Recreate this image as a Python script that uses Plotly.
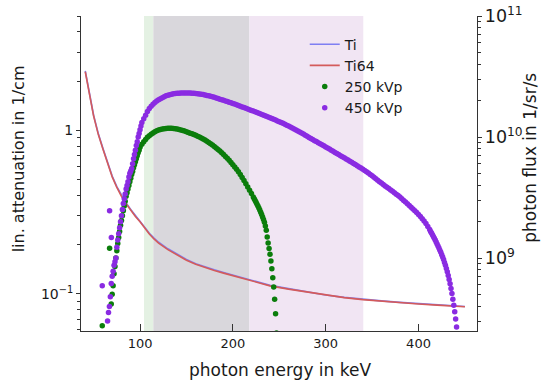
import plotly.graph_objects as go

# ---------------- data ----------------
# linear attenuation (log10 of 1/cm)
atten_energy = [41, 42, 44, 46, 48, 50, 52, 55, 60, 65, 70, 75, 80, 85, 90, 95, 100, 105, 110,
                115, 120, 130, 140, 150, 160, 170, 180, 190, 200, 220, 240, 260, 280, 300,
                320, 340, 360, 380, 400, 420, 440, 450]
ti64_log_mu = [0.358, 0.325, 0.26, 0.197, 0.138, 0.087, 0.042, -0.025, -0.115, -0.205, -0.285,
               -0.35, -0.405, -0.45, -0.49, -0.527, -0.56, -0.60, -0.635, -0.665, -0.69, -0.73,
               -0.765, -0.795, -0.82, -0.84, -0.858, -0.874, -0.89, -0.922, -0.952, -0.972,
               -0.99, -1.01, -1.024, -1.036, -1.046, -1.055, -1.063, -1.07, -1.077, -1.08]
ti_log_mu = [0.363, 0.33, 0.265, 0.202, 0.143, 0.092, 0.047, -0.02, -0.11, -0.2, -0.28,
             -0.345, -0.4, -0.445, -0.485, -0.522, -0.555, -0.595, -0.63, -0.66, -0.685,
             -0.725, -0.76, -0.79, -0.816, -0.836, -0.854, -0.87, -0.886, -0.918, -0.949,
             -0.969, -0.988, -1.008, -1.022, -1.034, -1.044, -1.053, -1.061, -1.068, -1.075, -1.078]

# photon flux spectra (log10 of 1/sr/s)
e_250 = [59.3, 67.2, 69, 70, 71, 72, 73, 74, 75, 76, 77, 78, 79, 80, 81, 82, 83, 84, 85, 86, 87,
         88, 89, 90, 91, 92, 93, 94, 95, 96, 97, 98, 99, 100,
         102, 104, 106, 108, 110, 112, 114, 116, 118, 120, 122, 124, 126, 128, 130, 132, 134,
         136, 138, 140, 142, 144, 146, 148, 150, 152, 154, 156, 158, 160, 162, 164, 166, 168,
         170, 172, 174, 176, 178, 180, 182, 184, 186, 188, 190, 192, 194, 196, 198, 200, 202,
         204, 206, 208, 210, 212, 214, 216, 218, 220, 222,
         223, 224, 225, 226, 227, 228, 229, 230, 231, 232, 233, 234, 235, 236, 237, 238, 239,
         240, 241, 242, 243, 244, 245, 246, 247]
logf_250 = [8.44, 9.08, 8.62, 8.70, 8.77, 8.87, 8.93, 9.00, 9.06, 9.12, 9.17, 9.22, 9.27, 9.31,
            9.35, 9.39, 9.43, 9.47, 9.51, 9.54, 9.57, 9.60, 9.63, 9.66, 9.69, 9.715, 9.745, 9.77,
            9.795, 9.82, 9.845, 9.87, 9.89, 9.915,
            9.94, 9.96, 9.98, 9.998, 10.01, 10.023, 10.034, 10.043, 10.051, 10.057, 10.062,
            10.066, 10.069, 10.071, 10.072, 10.073, 10.072, 10.071, 10.069, 10.066, 10.062,
            10.058, 10.054, 10.049, 10.044, 10.038, 10.032, 10.026, 10.02, 10.014, 10.007, 10.0,
            9.992, 9.984, 9.975, 9.965, 9.955, 9.944, 9.933, 9.922, 9.91, 9.897, 9.884, 9.87,
            9.856, 9.84, 9.824, 9.807, 9.79, 9.771, 9.752, 9.733, 9.713, 9.69, 9.666, 9.641,
            9.614, 9.587, 9.56, 9.533, 9.505,
            9.49, 9.475, 9.46, 9.445, 9.43, 9.413, 9.396, 9.378, 9.36, 9.34, 9.318, 9.295, 9.265,
            9.229, 9.174, 9.124, 9.078, 9.031, 8.976, 8.912, 8.838, 8.76, 8.659, 8.54, 8.38]

e_450 = [59.3, 65, 66, 67, 67.2, 68, 69, 69.1, 70, 71, 72, 73, 74, 75, 76, 77, 78, 79, 80, 81,
         82, 83, 84, 85, 86, 87, 88, 89, 90, 91, 92, 93, 94, 95, 96, 97, 98, 99, 100, 101, 102,
         104, 106, 108, 110, 112, 114, 116, 118, 120, 122, 124, 126, 128, 130, 132, 134, 136,
         138, 140, 142, 144, 146, 148, 150, 152, 154, 156, 158, 160, 162, 164, 166, 168, 170,
         172, 174, 176, 178, 180, 182, 184, 186, 188, 190, 192, 194, 196, 198, 200, 202, 204,
         206, 208, 210, 212, 214, 216, 218, 220, 222, 224, 226, 228, 230, 232, 234, 236, 238,
         240, 242, 244, 246, 248, 250, 252, 254, 256, 258, 260, 262, 264, 266, 268, 270, 272,
         274, 276, 278, 280, 282, 284, 286, 288, 290, 292, 294, 296, 298, 300, 302, 304, 306,
         308, 310, 312, 314, 316, 318, 320, 322, 324, 326, 328, 330, 332, 334, 336, 338, 340,
         342, 344, 346, 348, 350, 352, 354, 356, 358, 360, 362, 364, 366, 368, 370, 372, 374,
         376, 378, 380, 382, 384, 386, 388, 390, 392, 394, 396, 398, 400, 402, 404, 406, 408,
         410, 412,
         413, 414, 415, 416, 417, 418, 419, 420, 421, 422, 423, 424, 425, 426, 427, 428, 429,
         430, 431, 432, 433, 434, 435, 436, 437, 438, 439, 440, 441, 442]
logf_450 = [8.77, 8.48, 8.55, 8.60, 9.39, 8.68, 8.79, 9.17, 8.85, 8.89, 8.94, 8.97, 9.00, 9.09,
            9.15, 9.20, 9.25, 9.30, 9.35, 9.40, 9.45, 9.49, 9.53, 9.57, 9.60, 9.63, 9.67, 9.70,
            9.72, 9.74, 9.78, 9.82, 9.855, 9.89, 9.93, 9.96, 10.0, 10.03, 10.06, 10.09, 10.12,
            10.15, 10.18, 10.21, 10.235, 10.255, 10.27, 10.285, 10.297, 10.307, 10.317, 10.325,
            10.333, 10.34, 10.346, 10.35, 10.354, 10.357, 10.359, 10.361, 10.362, 10.363, 10.364,
            10.364, 10.364, 10.364, 10.363, 10.362, 10.361, 10.359, 10.357, 10.355, 10.353,
            10.351, 10.348, 10.344, 10.34, 10.336, 10.332, 10.328, 10.323, 10.318, 10.313,
            10.308, 10.303, 10.298, 10.293, 10.288, 10.283, 10.277, 10.272, 10.266, 10.261,
            10.255, 10.249, 10.243, 10.238, 10.232, 10.226, 10.22, 10.214, 10.208, 10.202,
            10.196, 10.19, 10.184, 10.178, 10.172, 10.166, 10.159, 10.153, 10.146, 10.14, 10.133,
            10.127, 10.12, 10.113, 10.105, 10.098, 10.09, 10.082, 10.074, 10.066, 10.058, 10.05,
            10.042, 10.033, 10.024, 10.015, 10.006, 9.997, 9.988, 9.979, 9.97, 9.962, 9.953,
            9.945, 9.936, 9.927, 9.918, 9.909, 9.9, 9.891, 9.882, 9.873, 9.864, 9.855, 9.846,
            9.837, 9.828, 9.819, 9.81, 9.8, 9.791, 9.782, 9.773, 9.763, 9.753, 9.744, 9.734,
            9.723, 9.713, 9.702, 9.69, 9.679, 9.667, 9.655, 9.643, 9.631, 9.619, 9.607, 9.596,
            9.585, 9.574, 9.563, 9.552, 9.54, 9.528, 9.516, 9.504, 9.49, 9.476, 9.462, 9.448,
            9.434, 9.42, 9.406, 9.391, 9.376, 9.36, 9.343, 9.325, 9.306, 9.286, 9.26, 9.235,
            9.22, 9.207, 9.193, 9.178, 9.163, 9.148, 9.132, 9.116, 9.099, 9.082, 9.065, 9.047,
            9.028, 9.008, 8.987, 8.964, 8.94, 8.914, 8.886, 8.856, 8.823, 8.787, 8.748, 8.706,
            8.66, 8.61, 8.556, 8.497, 8.43, 8.36]

# shaded energy bands (keV)
band_edges = [104.3, 114.3, 217.8, 340.5]
band_colors = ["#e4f1e3", "#d9d7dc", "#f1e5f3"]

series_names = ["Ti", "Ti64", "250 kVp", "450 kVp"]
colors = ["#7f7ff2", "#d45b5b", "#0b7d0b", "#8a2be2"]

left_tickvals = [0.1, 1]
left_ticktext = ["10<sup>−1</sup>", "1"]

FONT = "DejaVu Sans"
TXT = "#1a1a1a"

fig = go.Figure()

for i in range(3):
    fig.add_vrect(x0=band_edges[i], x1=band_edges[i + 1], fillcolor=band_colors[i],
                  opacity=1, line_width=0, layer="below")

fig.add_trace(go.Scatter(x=atten_energy, y=[10 ** v for v in ti_log_mu], mode="lines",
                         name=series_names[0], line=dict(color=colors[0], width=1.6)))
fig.add_trace(go.Scatter(x=atten_energy, y=[10 ** v for v in ti64_log_mu], mode="lines",
                         name=series_names[1], line=dict(color=colors[1], width=1.6)))
fig.add_trace(go.Scatter(x=e_250, y=[10 ** v for v in logf_250], mode="markers",
                         name=series_names[2], yaxis="y2",
                         marker=dict(color=colors[2], size=5.5, line=dict(width=0))))
fig.add_trace(go.Scatter(x=e_450, y=[10 ** v for v in logf_450], mode="markers",
                         name=series_names[3], yaxis="y2",
                         marker=dict(color=colors[3], size=5.5, line=dict(width=0))))

axis_common = dict(showgrid=False, zeroline=False, showline=True, linecolor="#333",
                   linewidth=1, tickcolor="#333", automargin=False,
                   tickfont=dict(family=FONT, size=14, color=TXT))

title_font = dict(family=FONT, size=17, color=TXT)

fig.update_layout(
    width=550, height=382,
    margin=dict(l=81, r=73, t=16, b=51),
    paper_bgcolor="white", plot_bgcolor="white",
    font=dict(family=FONT, color=TXT),
    showlegend=True,
    legend=dict(x=0.565, y=0.96, xanchor="left", yanchor="top", bgcolor="rgba(0,0,0,0)",
                font=dict(family=FONT, size=14, color=TXT), tracegroupgap=0),
    xaxis=dict(range=[36.4, 463], tickvals=[100, 200, 300, 400], ticks="inside", ticklen=7,
               **{**axis_common, "tickfont": dict(family=FONT, size=13, color=TXT)}),
    yaxis=dict(type="log", range=[-1.228, 0.699], tickvals=left_tickvals,
               ticktext=left_ticktext, ticks="outside", ticklen=4,
               minor=dict(ticks="outside", ticklen=3, dtick="D1", tickcolor="#333"),
               **axis_common),
    yaxis2=dict(type="log", range=[8.397, 11.0], overlaying="y", side="right", dtick=1,
                exponentformat="power", ticks="outside", ticklen=4,
                ticklabeloverflow="allow",
                minor=dict(ticks="outside", ticklen=3, dtick="D1", tickcolor="#333"),
                **axis_common),
    annotations=[
        dict(text="photon energy in keV", xref="paper", yref="paper", x=0.5025, y=-0.124,
             xanchor="center", yanchor="middle", showarrow=False, font=title_font),
        dict(text="lin. attenuation in 1/cm", xref="paper", yref="paper", x=-0.159, y=0.545,
             xanchor="center", yanchor="middle", textangle=-90, showarrow=False,
             font=dict(family=FONT, size=16, color=TXT)),
        dict(text="photon flux in 1/sr/s", xref="paper", yref="paper", x=1.134, y=0.55,
             xanchor="center", yanchor="middle", textangle=-90, showarrow=False,
             font=title_font),
    ],
)

# remove the default 8px page margin so the figure sits at the window's top-left corner
fig.write_html("out.html", config={"displayModeBar": False},
               post_script="document.body.style.margin='0px';")
